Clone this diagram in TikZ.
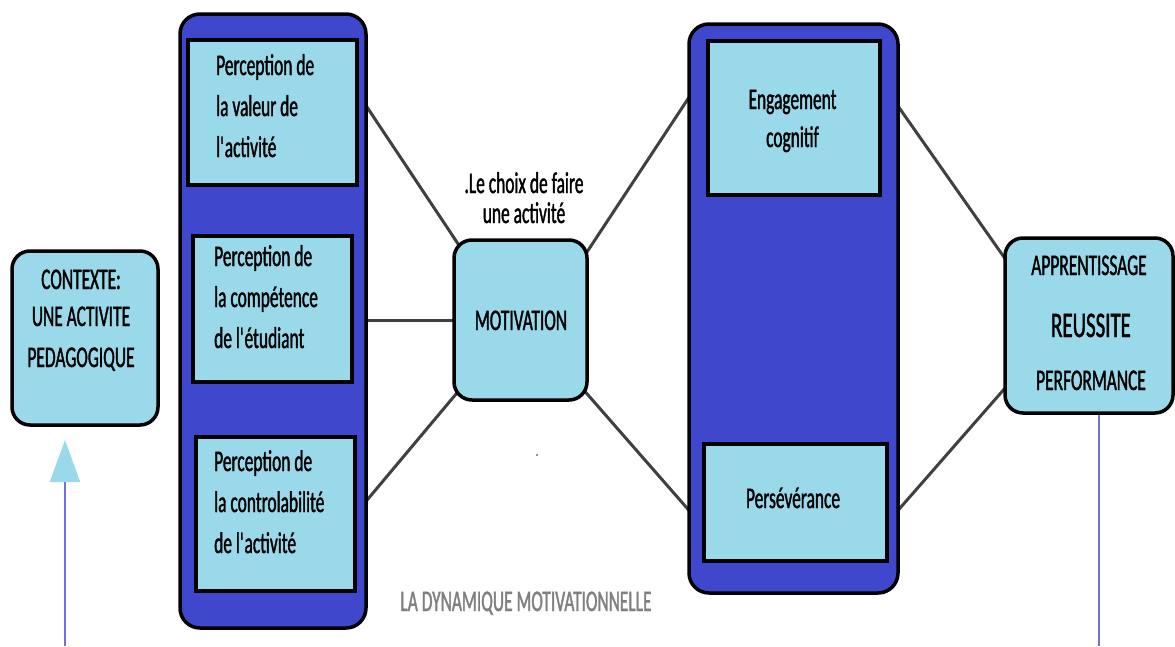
\documentclass[tikz,border=0pt]{standalone}
\usepackage{fontspec}
\setmainfont{Carlito}[FakeStretch=0.58,FakeBold=1.2]
\usetikzlibrary{arrows.meta,backgrounds}
\definecolor{indigo}{RGB}{63,72,204}
\definecolor{turquoise}{RGB}{153,217,234}
\definecolor{linkgray}{RGB}{64,64,64}
\definecolor{violetline}{RGB}{112,112,224}
\definecolor{titlegray}{RGB}{127,127,127}
\begin{document}
\begin{tikzpicture}
[x=1pt,y=-1pt,
  columndecorate/.style={shape=rectangle,rounded corners=20pt,draw,line width=3.5pt,fill=indigo,inner sep=0pt},
  boxdecorate/.style={shape=rectangle,draw,line width=3.5pt,fill=turquoise,inner sep=0pt},
  rounddecorate/.style={boxdecorate,rounded corners=18pt},
  textdecorate/.style={inner sep=0pt,font=\fontsize{30}{41}\selectfont},
  linedecorate/.style={-,line width=3pt,draw=linkgray,shorten <=-15pt,shorten >=-15pt},
  arrowdecorate/.style={line width=2pt,draw=violetline}]
\useasboundingbox (0,0) rectangle (1175,646);
%% columns and boxes
\foreach \nodename/\x/\y/\w/\h/\kind in {
  colL/273/321/186/614/columndecorate, colR/793.5/308.5/209/569/columndecorate,
  valeur/272.5/112.5/169/145/boxdecorate, compet/272.5/309/159/146/boxdecorate,
  controle/275.5/514/159/154/boxdecorate, engag/794/118/172/154/boxdecorate,
  persev/795.5/502.5/183/117/boxdecorate, ctx/85/338/146/174/rounddecorate,
  motiv/520.5/320/133/160/rounddecorate, result/1089/325.5/168/175/rounddecorate}
{
  \node (\nodename) at (\x,\y) [\kind,minimum width=\w pt,minimum height=\h pt] {};
}
%% perception texts (base = last line)
\foreach \nodename/\x/\y/\content in {
  valeurlbl/216/157/{Perception de\\la valeur de\\l{\textquotesingle}\kern-2pt activité},
  competlbl/214/348/{Perception de\\la compétence\\de l{\textquotesingle}\kern-2pt étudiant},
  controlelbl/214/553/{Perception de\\la controlabilité\\de l{\textquotesingle}\kern-2pt activité}}
{
  \node (\nodename) at (\x,\y) [textdecorate,anchor=base west,align=left] {\content};
}
%% other texts
\node (ctxlbl) at (81,367) [textdecorate,anchor=base,align=center] {CONTEXTE:\\[-4pt]UNE ACTIVITE\\PEDAGOGIQUE};
\node (choixlbl) at (524,223) [textdecorate,anchor=base,align=center] {.Le choix de faire\\[-11pt]une activité};
\node (motivlbl) at (521,330) [textdecorate,anchor=base] {MOTIVATION};
\node (engaglbl) at (792.5,147) [textdecorate,anchor=base,align=center] {Engagement\\[-3pt]cognitif};
\node (persevlbl) at (793,508) [textdecorate,anchor=base] {Persévérance};
\node (apprlbl) at (1089,275) [textdecorate,anchor=base] {APPRENTISSAGE};
\node (reussitelbl) at (1091,337) [textdecorate,anchor=base,font=\fontsize{36}{36}\selectfont] {REUSSITE};
\node (perflbl) at (1091,390) [textdecorate,anchor=base] {PERFORMANCE};
\node (titlelbl) at (526,611) [textdecorate,anchor=base,text=titlegray] {LA DYNAMIQUE MOTIVATIONNELLE};
\node (dotlbl) at (537,455) [inner sep=0pt,font=\fontsize{12}{12}\selectfont] {.};
%% edges or lines
\begin{pgfonlayer}{background}
\path
\foreach \startnode/\endnode in {colL.66.5/motiv.129, colL.-62.8/motiv.-131,
  motiv.46.4/colR.117.5, motiv.-48.1/colR.-118.4,
  colR.62.8/result.141.6, colR.-62.8/result.-143.8} {
  (\startnode) edge[linedecorate] (\endnode)
};
\draw [linedecorate] (motiv.west) -- (motiv.west -| colL.east);
\end{pgfonlayer}
%% arrow and foot line
\coordinate (ctxfoot) at (65,646);
\coordinate (ctxtip) at (65,440);
\draw [arrowdecorate,-{Triangle[width=30pt,length=42pt,color=turquoise]}] (ctxfoot) -- (ctxtip);
\coordinate (resultfoot) at (1099,646);
\draw [arrowdecorate] (result.south -| resultfoot) -- (resultfoot);
\end{tikzpicture}
\end{document}
